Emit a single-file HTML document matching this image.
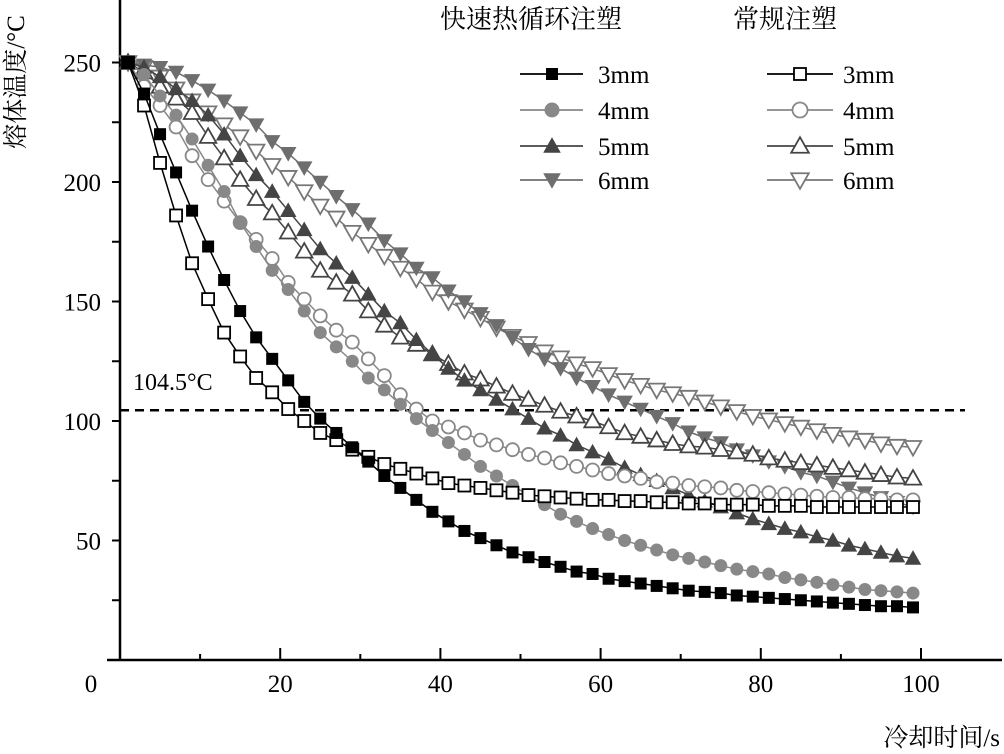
<!DOCTYPE html>
<html><head><meta charset="utf-8"><style>
html,body{margin:0;padding:0;background:#fff;width:1004px;height:754px;overflow:hidden}
svg{display:block;font-family:"Liberation Serif","Noto Serif CJK SC",serif}
</style></head><body>
<svg id="chart" width="1004" height="754" viewBox="0 0 1004 754" xmlns="http://www.w3.org/2000/svg">
<g id="axes"></g>
<g id="series"></g>
<g id="legend"></g>
</svg>
<script>
const times = [1,3,5,7,9,11,13,15,17,19,21,23,25,27,29,31,33,35,37,39,41,43,45,47,49,51,53,55,57,59,61,63,65,67,69,71,73,75,77,79,81,83,85,87,89,91,93,95,97,99];
const xTicks = [0,20,40,60,80,100];
const yTicks = [50,100,150,200,250];
const thresholdValue = 104.5;
const rapid3 = [250,237,220,204,188,173,159,146,135,126,117,108,101,95,89,83,77,72,67,62,58,54,51,48,45,43,41,39,37,36,34,33,32,31,30,29,28.5,28,27,26.5,26,25.5,25,24.5,24,23.5,23,22.5,22.5,22];
const rapid4 = [250,245,236,228,218,207,196,183,173,163,155,146,137,131,125,118,113,107,101,96,91,86,81,77,73,69,65,61,58,55,52.5,50,48,46,44,42.5,41,39.5,38,37,36,34.5,33.5,32.5,31.5,30.5,29.5,29,28.5,28];
const rapid5 = [250,248,244,239,234,228,220,211,203,196,188,180,172,166,160,153,146,141,134,128,122,117,113,109,105,101,97,94,90,87,84,80.5,77.5,75,72,69,66.5,64,61.5,59,57,55,53.5,51.5,50,48,46.5,45,43.5,42.5];
const rapid6 = [250,249,248,246,242.5,238.5,234,229,224,217,212,206,200,194,188.5,182.5,175.5,170,164,160,154.5,150,145,140,135,130,126,122,118,114.5,111,108,105,102,99,95.5,93,91,88,85.5,83,81,78.5,77,74.5,72,70,68,66,64];
const conv3 = [250,232,208,186,166,151,137,127,118,112,105,100,95,92,88,85,82,80,78,76,74,73,72,71,70,69,68.5,68,67.5,67,67,66.5,66.5,66,66,65.5,65.5,65,65,65,64.5,64.5,64.5,64,64,64,64,64,64,64];
const conv4 = [250,240,232,223,211,201,192,183,176,168,158,151,144,138,133,126,119,111,105,100,97.5,95,92,90,88,86,84.5,82.5,81,79.5,78,77,76,74.5,74,73,72.5,72,71,70.5,70,69.5,69,68.5,68,68,67.5,67.5,67,67];
const conv5 = [250,246,240,235,229,219,210,201,193,187,179,171,163,158,153,146,140,135,132,128,124,120,117.5,114.5,111.5,109,106.5,104,102,100,97.5,95,93.5,92,90.5,89.5,89,88,87,86,84.5,83.5,82.5,81.5,80.5,79.5,78.5,77.5,76.5,76];
const conv6 = [250,248,244,239,234,229,224,219,213,207,202,196,190,185,179,174,169,164,159.5,154,150,146.5,143,139,135.5,132.5,129,126.5,124,122,119.5,117,115,113,111.5,110,108,106,104,102,100.5,99,97.5,96,94.5,93,92,90.5,89.5,89];

const NS = 'http://www.w3.org/2000/svg';
const X0 = 120, X1 = 921, Y0 = 660, YSCALE = 2.39;
function xs(t){ return X0 + t * (X1 - X0) / 100; }
function ys(v){ return Y0 - v * YSCALE; }
function mk(tag, attrs, parent){ const e = document.createElementNS(NS, tag); for (const k in attrs) e.setAttribute(k, attrs[k]); parent.appendChild(e); return e; }

const axes = document.getElementById('axes');
let e;
e = mk('line',{x1:X0,y1:0,x2:X0,y2:Y0+1,stroke:'#000','stroke-width':2.5},axes);


e = mk('line',{x1:107,y1:Y0,x2:1002,y2:Y0,stroke:'#000','stroke-width':2.5},axes);


for (let t = 10; t <= 100; t += 10) {
  const major = t % 20 === 0;
  e = mk('line',{x1:xs(t),y1:Y0,x2:xs(t),y2:Y0-(major?12:6),stroke:'#000','stroke-width':2},axes);
  
  
}
for (const t of xTicks) {
  e = mk('text',{x:t===0?91:xs(t),y:692,'font-size':25,'text-anchor':'middle'},axes);
  e.textContent = String(t);
  
  
}
for (let v = 25; v <= 250; v += 25) {
  e = mk('line',{x1:X0,y1:ys(v),x2:X0-8,y2:ys(v),stroke:'#000','stroke-width':2},axes);
  
  
}
for (const v of yTicks) {
  e = mk('text',{x:101,y:ys(v)+9,'font-size':25,'text-anchor':'end'},axes);
  e.textContent = String(v);
  
  
}
e = mk('text',{x:1000,y:746,'font-size':25,'text-anchor':'end'},axes);
e.textContent = '冷却时间/s';


e = mk('text',{x:0,y:0,'font-size':25,'text-anchor':'middle',transform:'translate(24,82) rotate(-90)'},axes);
e.textContent = '熔体温度/°C';


e = mk('line',{x1:X0,y1:ys(thresholdValue),x2:965,y2:ys(thresholdValue),stroke:'#000','stroke-width':2.5,'stroke-dasharray':'9,6'},axes);


e = mk('text',{x:133,y:390,'font-size':24},axes);
e.textContent = '104.5°C';



function marker(g, shape, x, y, color, filled, s){
  const fill = filled ? color : '#fff';
  const sw = filled ? 0 : 1.8;
  let m;
  if (shape === 'square') m = mk('rect',{x:x-s/2,y:y-s/2,width:s,height:s,fill:fill,stroke:color,'stroke-width':sw},g);
  else if (shape === 'circle') m = mk('circle',{cx:x,cy:y,r:s/2,fill:fill,stroke:color,'stroke-width':sw},g);
  else if (shape === 'up') m = mk('polygon',{points:`${x},${y-s*0.55} ${x+s*0.55},${y+s*0.42} ${x-s*0.55},${y+s*0.42}`,fill:fill,stroke:color,'stroke-width':sw},g);
  else m = mk('polygon',{points:`${x},${y+s*0.55} ${x+s*0.55},${y-s*0.42} ${x-s*0.55},${y-s*0.42}`,fill:fill,stroke:color,'stroke-width':sw},g);
  return m;
}

const seriesDefs = [
  {name:'conv-6mm', data:conv6, shape:'down', color:'#777', filled:false},
  {name:'rapid-6mm', data:rapid6, shape:'down', color:'#6e6e6e', filled:true},
  {name:'conv-5mm', data:conv5, shape:'up', color:'#444', filled:false},
  {name:'rapid-5mm', data:rapid5, shape:'up', color:'#444', filled:true},
  {name:'conv-4mm', data:conv4, shape:'circle', color:'#888', filled:false},
  {name:'rapid-4mm', data:rapid4, shape:'circle', color:'#888', filled:true},
  {name:'conv-3mm', data:conv3, shape:'square', color:'#000', filled:false},
  {name:'rapid-3mm', data:rapid3, shape:'square', color:'#000', filled:true}
];
const sg = document.getElementById('series');
for (const s of seriesDefs) {
  const g = mk('g',{},sg);
  
  
  const pts = s.data.map((v,i)=>xs(times[i])+','+ys(v)).join(' ');
  const pl = mk('polyline',{points:pts,fill:'none',stroke:s.color,'stroke-width':1.5},g);
  
  
  s.data.forEach((v,i)=>{
    const m = marker(g, s.shape, xs(times[i]), ys(v), s.color, s.filled, s.shape==='square'?12:(s.shape==='circle'?13:15));
    
    
  });
}

const lg = document.getElementById('legend');
e = mk('text',{x:440,y:28,'font-size':26},lg);
e.textContent = '快速热循环注塑';


e = mk('text',{x:733,y:28,'font-size':26},lg);
e.textContent = '常规注塑';


const legendRows = [
  {label:'3mm', shape:'square', y:74},
  {label:'4mm', shape:'circle', y:110},
  {label:'5mm', shape:'up', y:146},
  {label:'6mm', shape:'down', y:180}
];
const rapidColors = ['#000','#888','#444','#6e6e6e'];
const convColors = ['#000','#888','#444','#777'];
legendRows.forEach((r,i)=>{
  [[520,583,552,598,rapidColors[i],true,'rapid'],[767,833,800,843,convColors[i],false,'conv']].forEach(c=>{
    const g = mk('g',{},lg);
    
    
    mk('line',{x1:c[0],y1:r.y,x2:c[1],y2:r.y,stroke:c[4],'stroke-width':1.8},g);
    marker(g, r.shape, c[2], r.y, c[4], c[5], r.shape==='square'?12:(r.shape==='circle'?15:16));
    const t = mk('text',{x:c[3],y:r.y+9,'font-size':25},g);
    t.textContent = r.label;
  });
});
</script>
</body></html>
